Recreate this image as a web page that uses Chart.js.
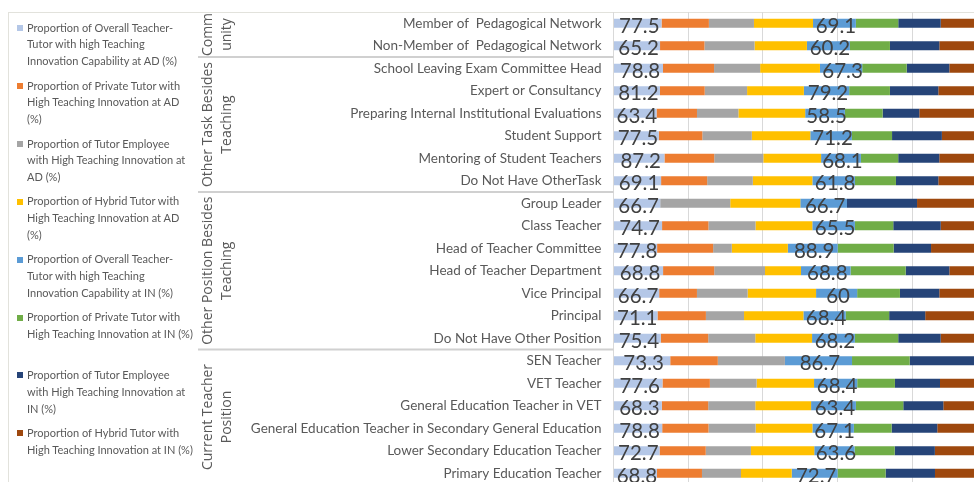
<!DOCTYPE html>
<html><head><meta charset="utf-8">
<script src="https://cdn.jsdelivr.net/npm/chart.js@4.4.1/dist/chart.umd.min.js"></script>
<style>
html,body{margin:0;padding:0;background:#fff;overflow:hidden;width:974px;height:482px;}
#wrap{position:relative;width:974px;height:482px;overflow:hidden;}
#c{position:absolute;left:0;top:0;}
#legend{position:absolute;left:0;top:0;font-family:Lato,sans-serif;font-size:11px;color:#595959;}
.mk{position:absolute;left:17px;width:6px;height:6px;}
.tx{position:absolute;left:27px;white-space:nowrap;line-height:16.7px;}
</style></head>
<body><div id="wrap"><canvas id="c" width="974" height="490"></canvas><div id="legend"></div></div>
<script>
const categories = [
  "Member of  Pedagogical Network","Non-Member of  Pedagogical Network",
  "School Leaving Exam Committee Head","Expert or Consultancy","Preparing Internal Institutional Evaluations",
  "Student Support","Mentoring of Student Teachers","Do Not Have OtherTask",
  "Group Leader","Class Teacher","Head of Teacher Committee","Head of Teacher Department",
  "Vice Principal","Principal","Do Not Have Other Position",
  "SEN Teacher","VET Teacher","General Education Teacher in VET",
  "General Education Teacher in Secondary General Education","Lower Secondary Education Teacher","Primary Education Teacher"
];
const groupNames = [["Comm","unity"],["Other Task Besides","Teaching"],["Other Position Besides","Teaching"],["Current Teacher","Position"]];
const groupSizes = [2,6,7,6];

const seriesNames = [
  ["Proportion of Overall Teacher-","Tutor with high Teaching","Innovation Capability at AD (%)"],
  ["Proportion of Private Tutor with","High Teaching Innovation at AD","(%)"],
  ["Proportion of Tutor Employee","with High Teaching Innovation at","AD (%)"],
  ["Proportion of Hybrid Tutor with","High Teaching Innovation at AD","(%)"],
  ["Proportion of Overall Teacher-","Tutor with high Teaching","Innovation Capability at IN (%)"],
  ["Proportion of Private Tutor with","High Teaching Innovation at IN (%)"],
  ["Proportion of Tutor Employee","with High Teaching Innovation at","IN (%)"],
  ["Proportion of Hybrid Tutor with","High Teaching Innovation at IN (%)"]
];
const seriesColors = ["#B4C7E7","#ED7D31","#A5A5A5","#FFC000","#5B9BD5","#70AD47","#264478","#9E480E"];

const overallAD  = [77.5,65.2,78.8,81.2,63.4,77.5,87.2,69.1,66.7,74.7,77.8,68.8,66.7,71.1,75.4,73.3,77.6,68.3,78.8,72.7,68.8];
const privateAD  = [76.4,62.2,81.3,78.3,59.6,74.5,85.2,66.9,0,71.3,100,71.0,55.2,78.3,75.5,61.5,75.1,65.6,75.0,72.9,71.5];
const employeeAD = [72.7,70.2,73.4,74.1,61.0,84.7,84.0,66.3,100,72.4,33.3,70.5,74.0,61.6,75.0,86.7,74.1,66.6,76.2,71.3,61.9];
const hybridAD   = [95.3,73.4,95.2,99.3,98.4,100,98.9,86.4,100,87.4,100,50.0,100,96.0,90.5,0,91.0,78.9,91.9,100,80.4];
const overallIN  = [69.1,60.2,67.3,79.2,58.5,71.2,68.1,61.8,66.7,65.5,88.9,68.8,60,68.4,68.2,86.7,68.4,63.4,67.1,63.6,72.7];
const privateIN  = [68.4,56.1,70.8,71.3,55.6,68.7,63.9,59.6,0,59.0,100,76.5,62.5,70.2,69.1,74.5,59.8,67.0,61.1,63.4,76.2];
const employeeIN = [68.5,69.2,67.9,84.6,54.0,85.3,70.3,61.5,100,73.0,66.7,60.6,57.5,58.3,67.7,100,71.4,56.6,73.9,63.4,78.3];
const hybridIN   = [74.8,66.9,60.1,85.3,99.9,77.3,81.8,70.8,100,71.3,100,52.4,69.8,100,73.9,0,74.6,61.9,80.6,82.4,82.6];

const seriesValues = [overallAD,privateAD,employeeAD,hybridAD,overallIN,privateIN,employeeIN,hybridIN];
const labelledSeries = [0,4];

// 100% stacked: each row shown as shares of its total
const rowTotals = categories.map((_,i)=>seriesValues.reduce((s,arr)=>s+arr[i],0));
const datasets = seriesValues.map((arr,k)=>({
  label: seriesNames[k].join(' '),
  data: arr.map((v,i)=>v/rowTotals[i]*100),
  backgroundColor: seriesColors[k],
  borderWidth: 0,
  barPercentage: 0.4,
  categoryPercentage: 1.0
}));

// HTML legend
const lg = document.getElementById('legend');
seriesNames.forEach((lines,k)=>{
  const top = 19.7 + k*57.9;
  const mk = document.createElement('div'); mk.className='mk';
  mk.style.top = (top+8.35-3)+'px'; mk.style.background = seriesColors[k];
  lg.appendChild(mk);
  const tx = document.createElement('div'); tx.className='tx'; tx.style.top = top+'px';
  tx.innerHTML = lines.map(l=>'<div>'+l.replace(/&/g,'&amp;').replace(/</g,'&lt;')+'</div>').join('');
  lg.appendChild(tx);
});

const framePlugin = {
  id:'frame',
  beforeDraw(chart){
    const ctx = chart.ctx;
    ctx.save();
    ctx.strokeStyle = '#e2e2dc'; ctx.lineWidth = 1;
    ctx.strokeRect(8.5, 12.5, 1200, 600);
    ctx.restore();
  },
  afterDraw(chart){
    const ctx = chart.ctx, y = chart.scales.y, area = chart.chartArea;
    ctx.save();
    const step = y.getPixelForValue(1) - y.getPixelForValue(0);
    let start = 0;
    groupSizes.forEach((n,g)=>{
      const top = y.getPixelForValue(start) - step/2;
      const bot = y.getPixelForValue(start+n-1) + step/2;
      if (g>0){
        ctx.strokeStyle = '#d0d0d0'; ctx.lineWidth = 2;
        ctx.beginPath(); ctx.moveTo(198, top); ctx.lineTo(area.left, top); ctx.stroke();
      }
      const cy = (top+bot)/2;
      ctx.fillStyle = '#595959';
      ctx.font = '14px "Open Sans", sans-serif';
      ctx.textAlign = 'center'; ctx.textBaseline = 'middle';
      groupNames[g].forEach((line,j)=>{
        ctx.save();
        ctx.translate(208 + j*18.7, cy);
        ctx.rotate(-Math.PI/2);
        ctx.fillText(line, 0, 0);
        ctx.restore();
      });
      start += n;
    });
    ctx.restore();
  }
};

const labelPlugin = {
  id:'vlabels',
  afterDatasetsDraw(chart){
    const ctx = chart.ctx;
    ctx.save();
    ctx.fillStyle = '#404040';
    ctx.font = '20.5px Lato, sans-serif';
    ctx.textAlign = 'center'; ctx.textBaseline = 'alphabetic';
    labelledSeries.forEach(k=>{
      const meta = chart.getDatasetMeta(k);
      meta.data.forEach((el,i)=>{
        const p = el.getProps(['x','y','base'], true);
        ctx.fillText(String(seriesValues[k][i]), (p.x+p.base)/2 + 1.5, p.y + 9.5);
      });
    });
    ctx.restore();
  }
};

new Chart(document.getElementById('c'), {
  type:'bar',
  data:{labels:categories, datasets},
  options:{
    indexAxis:'y',
    responsive:false,
    animation:false,
    devicePixelRatio:1,
    layout:{padding:{top:12,bottom:5.5,left:0,right:0}},
    plugins:{legend:{display:false},tooltip:{enabled:false}},
    scales:{
      x:{
        stacked:true, min:0, max:96.5,
        ticks:{display:false, stepSize:20, includeBounds:false},
        grid:{color:'#d9d9d9', lineWidth:1, drawTicks:false},
        border:{display:false},
        afterFit(s){ s.height = 0; s.paddingLeft = 0; s.paddingRight = 0; }
      },
      y:{
        stacked:true,
        ticks:{color:'#595959', font:{family:'Lato', size:13.5}, padding:12, autoSkip:false},
        grid:{display:false, drawTicks:false},
        border:{display:false},
        afterFit(s){ s.width = 613.5; s.paddingTop = 0; s.paddingBottom = 0; }
      }
    }
  },
  plugins:[framePlugin, labelPlugin]
});
</script>
</body></html>
